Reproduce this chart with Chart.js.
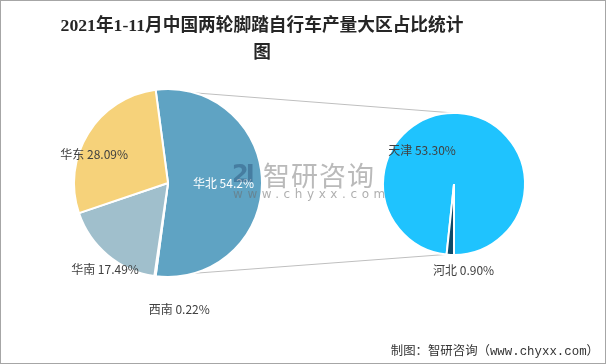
<!DOCTYPE html>
<html>
<head>
<meta charset="utf-8">
<script src="https://cdn.jsdelivr.net/npm/chart.js@4/dist/chart.umd.min.js"></script>
<style>
  html, body { margin: 0; padding: 0; background: #fff; }
  #frame {
    position: relative; width: 604px; height: 362px;
    border: 1px solid #a6a6a6; overflow: hidden; background: #fff;
  }
  #title {
    position: absolute; left: 0; top: 11px; width: 522px; text-align: center;
    font-family: 'Liberation Serif', 'Noto Sans CJK SC', serif;
    font-size: 17.7px; font-weight: bold; line-height: 27px; color: #262626;
  }
  canvas { position: absolute; }
  #watermark { position: absolute; left: 231px; top: 160px; pointer-events: none; }
  #wm-logo {
    position: absolute; left: 0; top: 3px; width: 26px; height: 20px;
    font-family: 'DejaVu Sans', sans-serif; font-weight: bold; font-size: 24px; line-height: 20px;
    color: rgba(40, 80, 120, 0.45); letter-spacing: -3px;
  }
  #wm-name {
    position: absolute; left: 31px; top: 0; white-space: nowrap;
    font-family: 'Noto Sans CJK SC', sans-serif; font-size: 27px; line-height: 27px;
    color: rgba(140, 140, 140, 0.6); letter-spacing: 1px;
  }
  #wm-url {
    position: absolute; left: 1px; top: 26px; white-space: nowrap;
    font-family: 'DejaVu Sans', sans-serif; font-size: 12px; line-height: 14px;
    color: rgba(110, 110, 110, 0.55); letter-spacing: 4.6px;
  }
  #footer {
    position: absolute; right: 6px; top: 343px; white-space: nowrap;
    font-family: 'Liberation Mono', 'Noto Sans CJK SC', monospace;
    font-size: 12.4px; line-height: 16px; color: #333;
  }
</style>
</head>
<body>
<div id="frame">
  <canvas id="connectors" width="604" height="362" style="left:0;top:0;"></canvas>
  <canvas id="left-pie" width="260" height="270" style="left:40px;top:60px;"></canvas>
  <canvas id="right-pie" width="160" height="180" style="left:370px;top:100px;"></canvas>
  <div id="title">2021年1-11月中国两轮脚踏自行车产量大区占比统计<br>图</div>
  <div id="watermark">
    <div id="wm-logo">2I</div>
    <div id="wm-name">智研咨询</div>
    <div id="wm-url">www.chyxx.com</div>
  </div>
  <div id="footer">制图：智研咨询（www.chyxx.com）</div>
</div>
<script>
const regionLabels = ['华北', '西南', '华南', '华东'];
const regionValues = [54.2, 0.22, 17.49, 28.09];
const regionColors = ['#5fa3c3', '#3f6f9a', '#a0bfcc', '#f6d27a'];

const northLabels = ['天津', '河北'];
const northValues = [53.30, 0.90];
const northColors = ['#1fc3fe', '#0e4a68'];

const sumOf = (values) => values.reduce((a, b) => a + b, 0);

// label offsets from the pie centre, in units of the radius
const regionLabelOffsets = [[0.59, 0.0], [0.12, 1.345], [-0.67, 0.915], [-0.785, -0.30]];
const northLabelOffsets = [[-0.45, -0.47], [0.135, 1.215]];

const sliceLabels = {
  id: 'sliceLabels',
  afterDatasetsDraw(chart, args, opts) {
    const ctx = chart.ctx;
    const meta = chart.getDatasetMeta(0);
    const values = chart.data.datasets[0].data;
    ctx.save();
    ctx.font = '12px "Noto Sans CJK SC", sans-serif';
    ctx.textAlign = 'center';
    ctx.textBaseline = 'middle';
    meta.data.forEach((arc, i) => {
      const offset = opts.offsets[i];
      const text = chart.data.labels[i] + ' ' + opts.format(values[i]);
      ctx.fillStyle = opts.colors[i];
      ctx.fillText(text, arc.x + offset[0] * arc.outerRadius, arc.y + offset[1] * arc.outerRadius);
    });
    ctx.restore();
  },
};

const regionTotal = sumOf(regionValues);
const regionRotation = 90 - (regionValues[0] / regionTotal) * 180;

const leftChart = new Chart(document.querySelector('#left-pie'), {
  type: 'pie',
  data: {
    labels: regionLabels,
    datasets: [{
      data: regionValues,
      backgroundColor: regionColors,
      borderColor: '#ffffff',
      borderWidth: 2,
    }],
  },
  options: {
    responsive: false,
    animation: false,
    rotation: regionRotation,
    layout: { padding: { left: 32, right: 38, top: 27, bottom: 53 } },
    plugins: {
      legend: { display: false },
      tooltip: { enabled: false },
      sliceLabels: {
        offsets: regionLabelOffsets,
        colors: ['#ffffff', '#404040', '#404040', '#404040'],
        format: (v) => String(v) + '%',
      },
    },
  },
  plugins: [sliceLabels],
});

const northTotal = sumOf(northValues);
const hebeiSpan = (northValues[1] / northTotal) * 360;
const northRotation = 183 - hebeiSpan / 2 - (northValues[0] / northTotal) * 360;

const rightChart = new Chart(document.querySelector('#right-pie'), {
  type: 'pie',
  data: {
    labels: northLabels,
    datasets: [{
      data: northValues,
      backgroundColor: northColors,
      borderColor: '#ffffff',
      borderWidth: 2,
    }],
  },
  options: {
    responsive: false,
    animation: false,
    rotation: northRotation,
    layout: { padding: { left: 11, right: 5, top: 11, bottom: 25 } },
    plugins: {
      legend: { display: false },
      tooltip: { enabled: false },
      sliceLabels: {
        offsets: northLabelOffsets,
        colors: ['#404040', '#404040'],
        format: (v) => v.toFixed(2) + '%',
      },
    },
  },
  plugins: [sliceLabels],
});

const drawConnectors = () => {
  const canvas = document.querySelector('#connectors');
  const ctx = canvas.getContext('2d');
  const north = leftChart.getDatasetMeta(0).data[0];
  const pie = rightChart.getDatasetMeta(0).data[0];
  const lx = 40, ly = 60, rx = 370, ry = 100;

  const r = north.outerRadius;
  const start = [lx + north.x + r * Math.cos(north.startAngle), ly + north.y + r * Math.sin(north.startAngle)];
  const end = [lx + north.x + r * Math.cos(north.endAngle), ly + north.y + r * Math.sin(north.endAngle)];
  const top = [rx + pie.x, ry + pie.y - pie.outerRadius];
  const bottom = [rx + pie.x - 2, ry + pie.y + pie.outerRadius - 1];

  ctx.strokeStyle = '#bfbfbf';
  ctx.lineWidth = 1;
  ctx.beginPath();
  ctx.moveTo(start[0], start[1]);
  ctx.lineTo(top[0], top[1]);
  ctx.moveTo(end[0], end[1]);
  ctx.lineTo(bottom[0], bottom[1]);
  ctx.stroke();
};

drawConnectors();
</script>
</body>
</html>
